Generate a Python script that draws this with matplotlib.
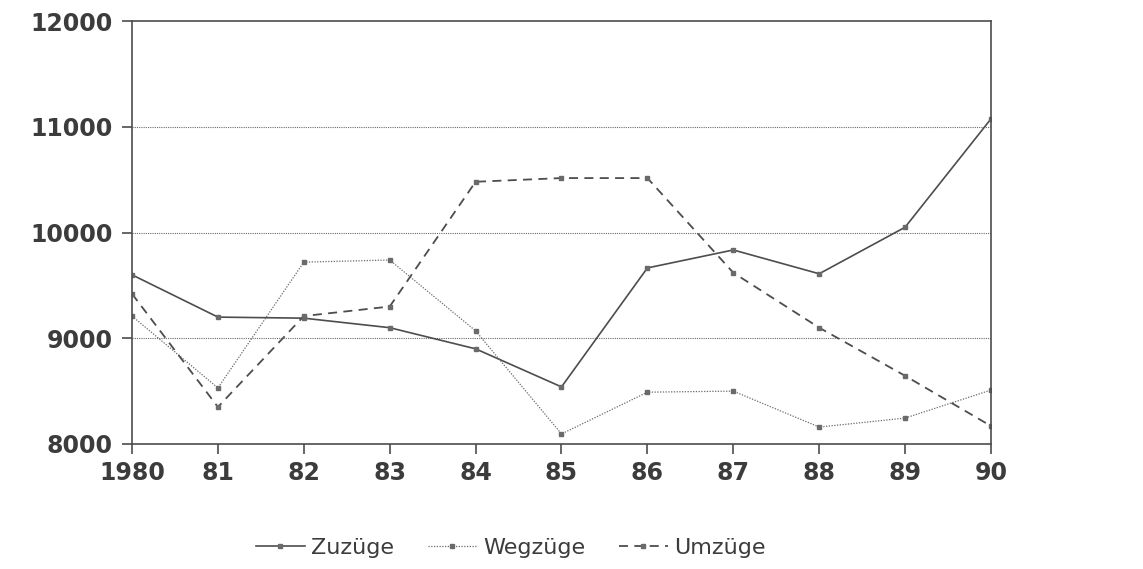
import matplotlib.pyplot as plt

# Wanderungen 1980-1990
years = [1980, 1981, 1982, 1983, 1984, 1985, 1986, 1987, 1988, 1989, 1990]
year_labels = ["1980", "81", "82", "83", "84", "85", "86", "87", "88", "89", "90"]
zuzuege = [9600, 9200, 9190, 9100, 8900, 8540, 9665, 9835, 9610, 10050, 11075]
wegzuege = [9210, 8530, 9720, 9740, 9070, 8095, 8490, 8500, 8160, 8245, 8510]
umzuege = [9420, 8350, 9210, 9300, 10480, 10515, 10515, 9620, 9100, 8645, 8170]
y_ticks = [8000, 9000, 10000, 11000, 12000]

ink = "#4d4d4d"
txt = "#3c3c3c"

fig = plt.figure(figsize=(11.43, 5.69), dpi=100)
ax = fig.add_axes([0.1155, 0.2197, 0.7515, 0.7433])

mk = dict(marker="s", markersize=3.2, markerfacecolor="#6a6a6a", markeredgecolor="#6a6a6a")
l1, = ax.plot(years, zuzuege, color=ink, lw=1.2, linestyle="-", label="Zuzüge", **mk)
l2, = ax.plot(years, wegzuege, color="#6a6a6a", lw=0.9, linestyle=(0, (1, 1.2)), label="Wegzüge", **mk)
l3, = ax.plot(years, umzuege, color=ink, lw=1.3, linestyle=(0, (5, 3.5)), label="Umzüge", **mk)

ax.set_xlim(years[0], years[-1])
ax.set_ylim(8000, 12000)
ax.set_xticks(years)
ax.set_xticklabels(year_labels)
ax.set_yticks(y_ticks)
ax.set_yticklabels([str(v) for v in y_ticks])

for v in y_ticks[1:-1]:
    ax.axhline(v, color="#6a6a6a", lw=0.8, linestyle=(0, (1, 1)), zorder=0)

for s in ax.spines.values():
    s.set_color(ink)
    s.set_linewidth(1.2)

ax.tick_params(axis="both", direction="out", length=7, width=1.2, color=ink,
               labelsize=17, labelcolor=txt)
ax.tick_params(axis="y", pad=7)
ax.tick_params(axis="x", pad=5)
for lab in ax.get_xticklabels() + ax.get_yticklabels():
    lab.set_family("DejaVu Sans")
    lab.set_fontweight("bold")

leg = fig.legend(handles=[l1, l2, l3], loc="center", bbox_to_anchor=(0.447, 0.037),
                 ncol=3, frameon=False, fontsize=16, handlelength=2.2,
                 handletextpad=0.3, columnspacing=1.5, labelcolor=txt)

fig.savefig("out.png", dpi=100, facecolor="white")
